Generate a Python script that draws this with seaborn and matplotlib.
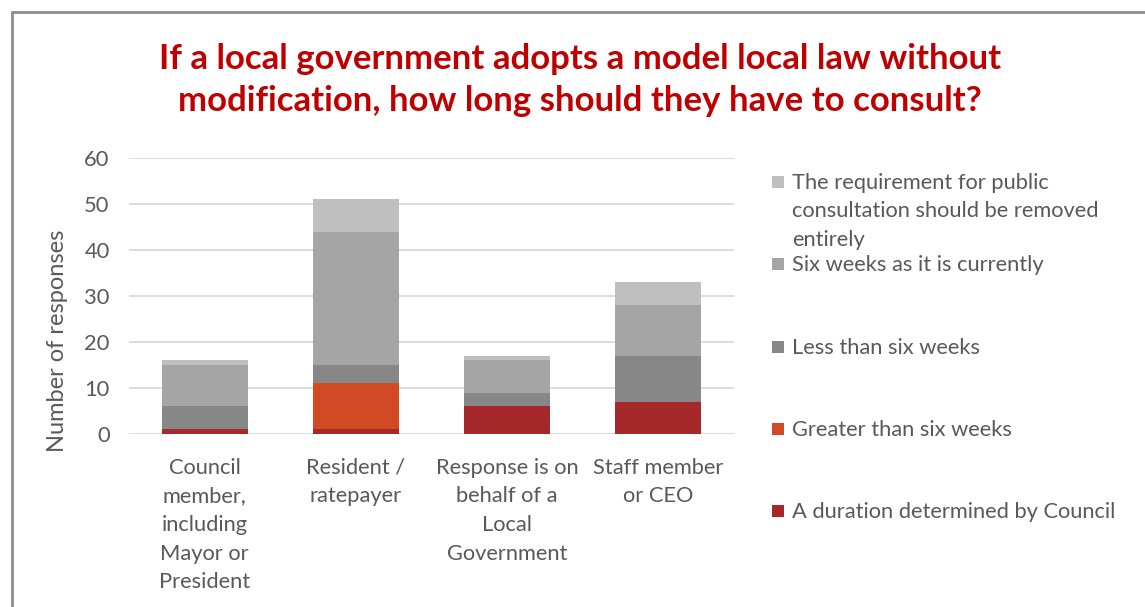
import matplotlib
matplotlib.use("Agg")
import matplotlib.pyplot as plt
from matplotlib.patches import Rectangle
import numpy as np
import pandas as pd
import seaborn as sns

# Respondent groups and their wrapped axis labels
categories = [
    "Council member, including Mayor or President",
    "Resident / ratepayer",
    "Response is on behalf of a Local Government",
    "Staff member or CEO",
]
tick_labels = [
    "Council\nmember,\nincluding\nMayor or\nPresident",
    "Resident /\nratepayer",
    "Response is on\nbehalf of a\nLocal\nGovernment",
    "Staff member\nor CEO",
]

# Response counts per option (bottom of the stack first)
duration_by_council = [1, 1, 6, 7]
greater_than_six = [0, 10, 0, 0]
less_than_six = [5, 4, 3, 10]
six_weeks_current = [9, 29, 7, 11]
remove_requirement = [1, 7, 1, 5]

series_names = [
    "A duration determined by Council",
    "Greater than six weeks",
    "Less than six weeks",
    "Six weeks as it is currently",
    "The requirement for public consultation should be removed entirely",
]
legend_labels = [
    "A duration determined by Council",
    "Greater than six weeks",
    "Less than six weeks",
    "Six weeks as it is currently",
    "The requirement for public\nconsultation should be removed\nentirely",
]
series_values = [duration_by_council, greater_than_six, less_than_six,
                 six_weeks_current, remove_requirement]
colors = ["#A5282B", "#D14A24", "#878787", "#A5A5A5", "#BFBFBF"]

TEXT = "#595959"
FONT = "Lato"
FS = 15.75

sns.set_theme(style="white")
plt.rcParams["font.family"] = [FONT, "DejaVu Sans"]

fig = plt.figure(figsize=(11.45, 6.07), dpi=100)
W, H = 1145, 607

# Outer chart frame
fig.add_artist(Rectangle((12 / W, -0.05), 1.1, 1 - 12 / H + 0.05,
                         transform=fig.transFigure, fill=False,
                         edgecolor="#8C8C8C", linewidth=2))

ax = fig.add_axes([129 / W, 173 / H, 605 / W, 276 / H])

# Stacked bars: draw cumulative totals from the top layer down
df = pd.DataFrame({name: vals for name, vals in zip(series_names, series_values)},
                  index=categories)
cum = df.cumsum(axis=1)
for name, col in reversed(list(zip(series_names, colors))):
    sns.barplot(x=list(cum.index), y=cum[name].values, color=col,
                saturation=1, width=0.57, ax=ax, zorder=3,
                edgecolor="none")

ax.set_ylim(0, 60)
ax.set_yticks(np.arange(0, 61, 10))
ax.set_xlim(-0.5, 3.5)
ax.grid(axis="y", color="#D9D9D9", linewidth=1.3, zorder=0)
ax.grid(axis="x", visible=False)
for s in ax.spines.values():
    s.set_visible(False)

ax.set_xticks(range(len(categories)))
ax.set_xticklabels(tick_labels, fontsize=FS, color=TEXT, linespacing=1.54,
                   va="top")
ax.tick_params(axis="x", length=0, pad=17)
ax.tick_params(axis="y", length=0, pad=14, labelsize=FS, labelcolor=TEXT)

ax.set_ylabel("Number of responses", fontsize=17, color=TEXT)
ax.yaxis.set_label_coords(-0.10, 0.337)

# Title
fig.text(580 / W, 1 - 80 / H,
         "If a local government adopts a model local law without\n"
         "modification, how long should they have to consult?",
         ha="center", va="center", fontsize=25, fontweight="bold",
         color="#C00000", linespacing=1.35)

# Legend entries, top to bottom
legend_y = [182, 264, 347, 429, 511]
order = list(range(len(series_names)))[::-1]
for yy, i in zip(legend_y, order):
    fig.add_artist(Rectangle((772 / W, 1 - (yy + 6) / H), 12 / W, 12 / H,
                             transform=fig.transFigure, facecolor=colors[i],
                             edgecolor="none"))
    fig.text(792 / W, 1 - (yy - 9) / H, legend_labels[i], ha="left", va="top",
             fontsize=FS, color=TEXT, linespacing=1.52)

fig.savefig("out.png", dpi=100, facecolor="white")
